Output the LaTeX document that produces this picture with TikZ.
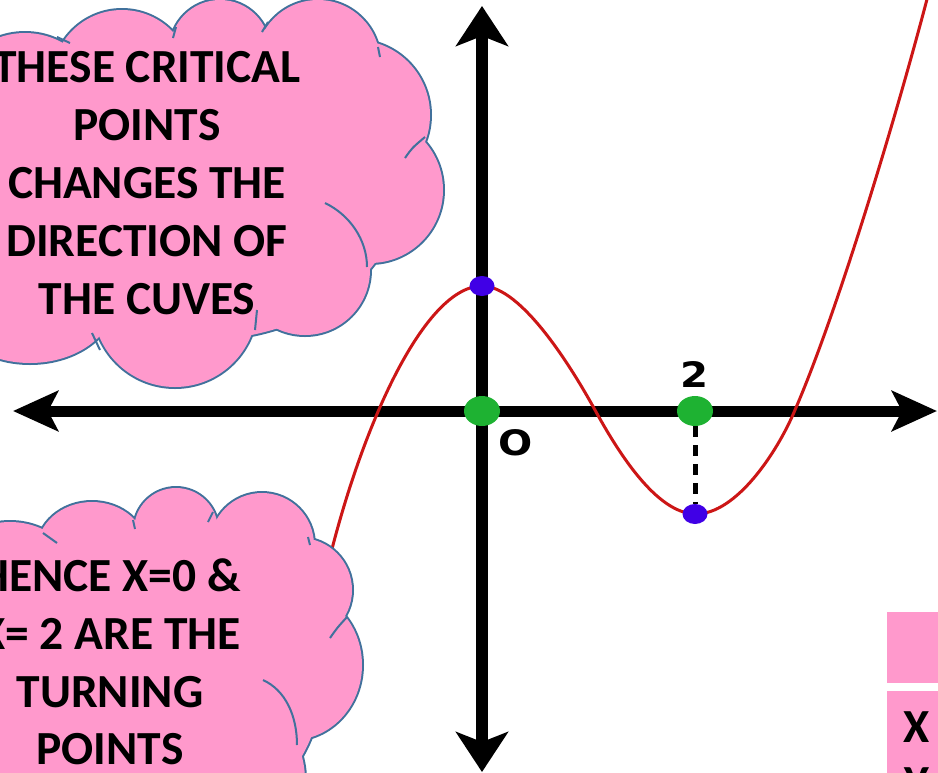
\documentclass[tikz,border=0pt]{standalone}
\usepackage{fontspec}
\setmainfont{Carlito}
\newfontfamily\axisfont[FakeStretch=1.15]{DejaVu Sans}
\usetikzlibrary{arrows.meta, shapes.geometric}

\definecolor{cloudpink}{RGB}{255,153,204}
\definecolor{cloudedge}{RGB}{65,113,156}
\definecolor{curvered}{RGB}{204,22,22}
\definecolor{dotgreen}{RGB}{30,178,50}
\definecolor{dotblue}{RGB}{64,0,230}

% lobes of the two clouds: centre x / centre y / x radius / y radius (pixels, y down)
\def\toplobes{25/110/77/77, 122/80/70/70, 220/50/50/50, 318/62/62/62, 355/115/75/75,
  370/190/73/73, 305/270/65/65, 175/305/82/82, 30/300/85/63, -40/200/90/90, 200/190/200/150}
\def\lowlobes{10/600/78/78, 92/550/55/48, 176/530/42/42, 262/545/52/52, 300/590/52/52,
  292/665/70/75, 215/780/90/90, -40/680/100/150, 130/690/190/155}

\begin{document}
\begin{tikzpicture}[x=1pt, y=-1pt,
  haxis/.style={line width=11pt, {Stealth[length=45pt,width=40pt,inset=10pt]}-{Stealth[length=45pt,width=40pt,inset=10pt]}},
  vaxis/.style={line width=12pt, {Stealth[length=40pt,width=52pt,inset=10pt]}-{Stealth[length=40pt,width=52pt,inset=10pt]}},
  greendot/.style={ellipse, fill=dotgreen, minimum width=36pt, minimum height=30pt, inner sep=0pt},
  bluedot/.style={ellipse, fill=dotblue, minimum width=25pt, minimum height=20pt, inner sep=0pt},
  dropline/.style={line width=5pt, dash pattern=on 11pt off 8pt},
  axislabel/.style={font=\axisfont\bfseries\fontsize{35}{38}\selectfont, inner sep=0pt},
  cloudrim/.style={cloudedge, line width=4pt},
  cloudline/.style={cloudedge, line width=2pt},
  notetext/.style={align=center, inner sep=0pt, font=\bfseries\fontsize{47.5}{57.8}\selectfont}]
  \useasboundingbox (0,0) rectangle (938,772);

  % axes
  \coordinate (xleft) at (13,411);
  \coordinate (xright) at (937,411);
  \coordinate (ytop) at (482,6);
  \coordinate (ybot) at (482,772);
  \draw[haxis] (xleft) -- (xright);
  \draw[vaxis] (ybot) -- (ytop);

  % the curve: max at x=0, min at x=2
  \draw[curvered, line width=3pt] (318,610)
    .. controls (350,450) and (420,286) .. (482,286)
    .. controls (522,286) and (573,370) .. (595,410)
    .. controls (617,450) and (656,514) .. (696,514)
    .. controls (736,514) and (777,453) .. (795,410)
    .. controls (840,306) and (902,97) .. (932,-20);

  % critical points
  \node[greendot] (origin) at (482,411) {};
  \node[greendot] (two) at (695,411) {};
  \node[bluedot] (maxpt) at (482,286) {};
  \node[bluedot] (minpt) at (695,514) {};
  \draw[dropline] (two.south) -- (minpt.north);
  \node[axislabel] (twolab) at (694,375) {2};
  \node[axislabel] (olab) at (516,443) {O};

  % upper cloud
  \foreach \cx/\cy/\rx/\ry in \toplobes
    \draw[cloudrim] (\cx,\cy) ellipse [x radius=\rx, y radius=\ry];
  \foreach \cx/\cy/\rx/\ry in \toplobes
    \fill[cloudpink] (\cx,\cy) ellipse [x radius=\rx, y radius=\ry];
  \draw[cloudline] (325,203) .. controls (350,215) and (367,240) .. (367,267);
  \draw[cloudline] (405,158) .. controls (412,148) .. (425,137);
  \draw[cloudline] (380,57) -- (378,47);
  \draw[cloudline] (173,38) -- (176,27);
  \draw[cloudline] (262,32) -- (268,22);
  \draw[cloudline] (255,330) -- (257,310);
  \draw[cloudline] (92,333) -- (100,350);
  \draw[cloudline] (57,37) -- (70,43);
  \node[notetext] (topnote) at (147,183)
    {THESE CRITICAL\\POINTS\\CHANGES THE\\DIRECTION OF\\THE CUVES};

  % lower cloud
  \foreach \cx/\cy/\rx/\ry in \lowlobes
    \draw[cloudrim] (\cx,\cy) ellipse [x radius=\rx, y radius=\ry];
  \foreach \cx/\cy/\rx/\ry in \lowlobes
    \fill[cloudpink] (\cx,\cy) ellipse [x radius=\rx, y radius=\ry];
  \draw[cloudline] (263,680) .. controls (285,690) and (297,715) .. (297,745);
  \draw[cloudline] (330,638) .. controls (337,628) .. (347,617);
  \draw[cloudline] (133,520) -- (135,529);
  \draw[cloudline] (208,522) -- (213,512);
  \draw[cloudline] (310,545) -- (308,537);
  \draw[cloudline] (57,543) -- (43,533);
  \node[notetext] (lownote) at (110,662)
    {HENCE X=0 \&\\X= 2 ARE THE\\TURNING\\POINTS};

  % table at the corner
  \fill[cloudpink] (887,612) rectangle (950,683);
  \fill[cloudpink] (887,691) rectangle (950,800);
  \node[notetext] (xhead) at (917,727) {X};
  \node[notetext] (yhead) at (917,783) {Y};
\end{tikzpicture}
\end{document}
